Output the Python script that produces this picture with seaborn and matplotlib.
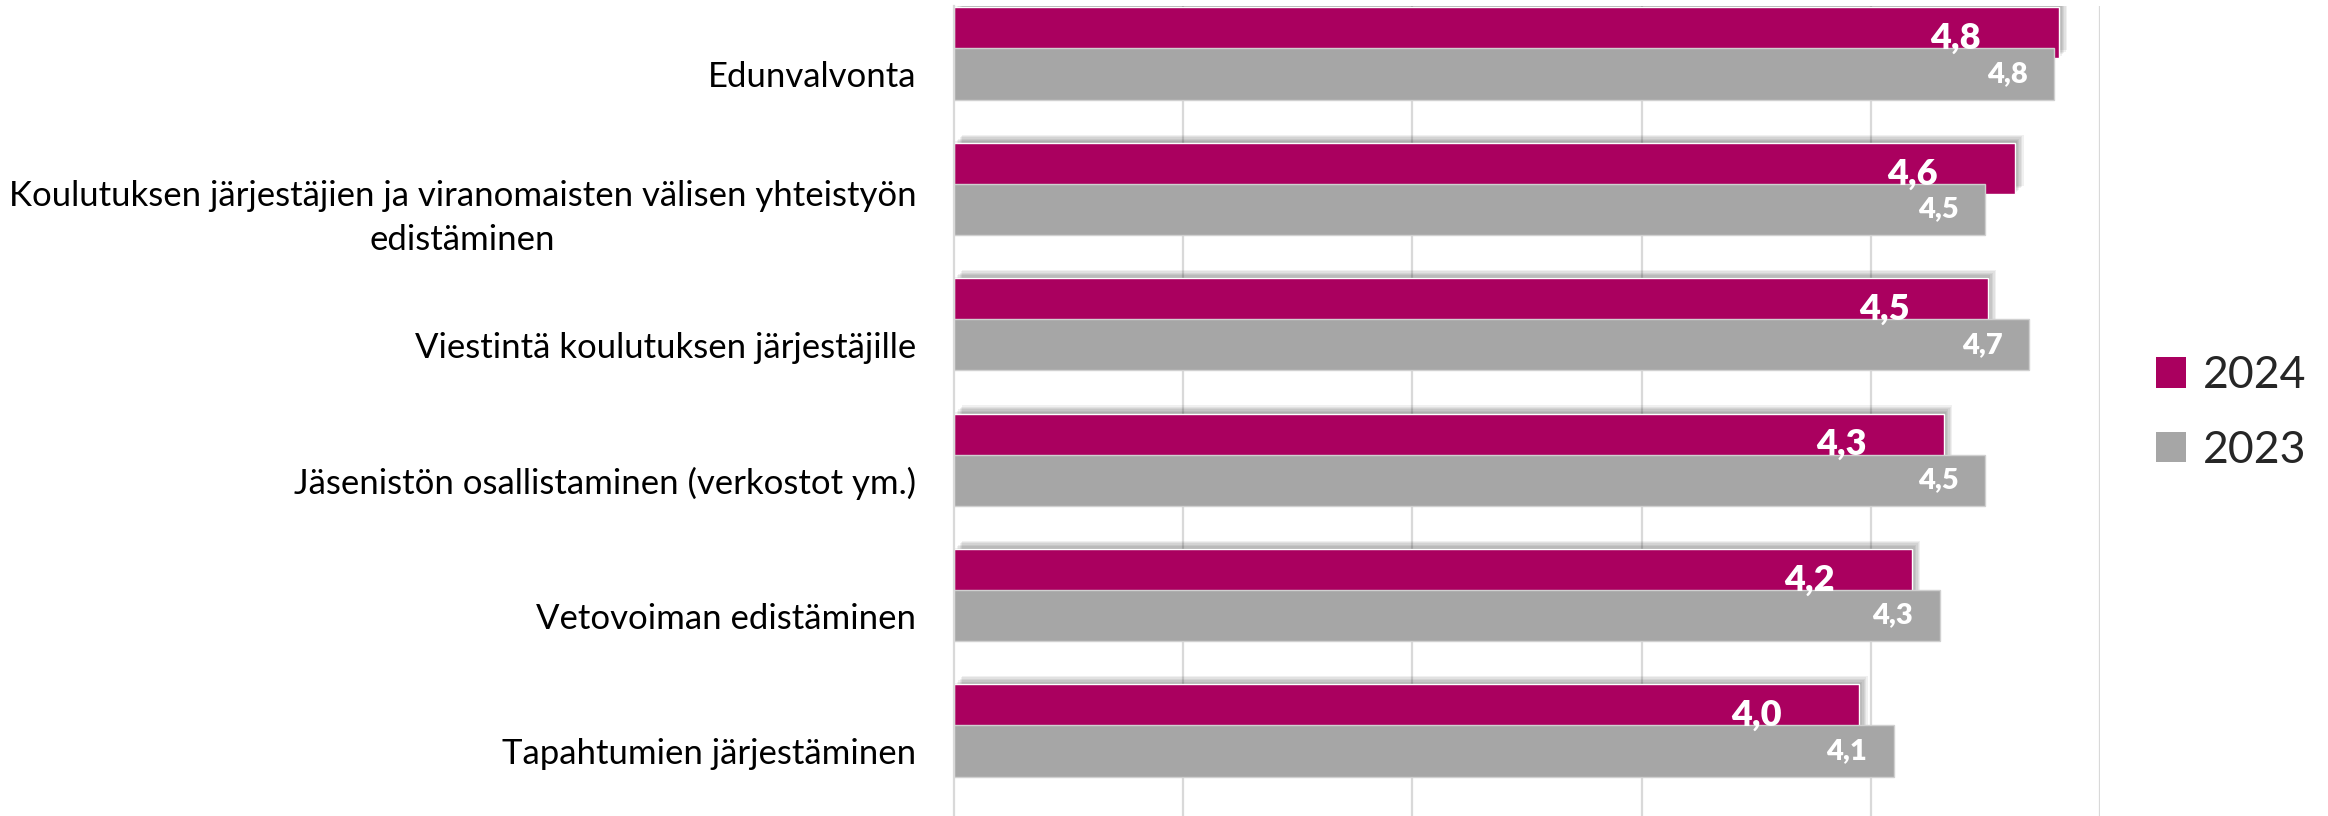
import numpy as np
import pandas as pd
import matplotlib
matplotlib.use("Agg")
import matplotlib.pyplot as plt
import matplotlib.patheffects as pe
from matplotlib.patches import Patch
import seaborn as sns

colors = ["#AA005F", "#A6A6A6"]

kategoriat = [
    "Edunvalvonta",
    "Koulutuksen järjestäjien ja viranomaisten välisen yhteistyön\nedistäminen",
    "Viestintä koulutuksen järjestäjille",
    "Jäsenistön osallistaminen (verkostot ym.)",
    "Vetovoiman edistäminen",
    "Tapahtumien järjestäminen",
]
arvot_2024 = [4.82, 4.63, 4.51, 4.32, 4.18, 3.95]
arvot_2023 = [4.80, 4.50, 4.69, 4.50, 4.30, 4.10]
vuodet = ["2024", "2023"]

sns.set_theme(style="white")
plt.rcParams["font.family"] = ["Lato", "DejaVu Sans"]

df = pd.DataFrame({"kategoria": kategoriat, "2024": arvot_2024, "2023": arvot_2023})

fig = plt.figure(figsize=(23.28, 8.16), dpi=100)
ax = fig.add_axes([954 / 2328, -0.0033, 1146 / 2328, 0.9956])

leveys = 0.377
siirto = 0.303

# 2024 ensin (jää harmaan alle), siirretään ylöspäin
sns.barplot(data=df, x="2024", y="kategoria", color=colors[0], saturation=1,
            width=leveys, ax=ax)
n = len(kategoriat)
varjo = [pe.SimplePatchShadow(offset=(o, o), shadow_rgbFace="black", alpha=0.06)
         for o in (1, 2, 3, 4, 5, 6)] + [pe.Normal()]
for p in ax.patches[:n]:
    p.set_y(p.get_y() - siirto)
    p.set_path_effects(varjo)

sns.barplot(data=df, x="2023", y="kategoria", color=colors[1], saturation=1,
            width=leveys, ax=ax)
for p in ax.patches[n:]:
    p.set_edgecolor("#D0D0D0")
    p.set_linewidth(1)

# arvot palkkien sisälle
for i, p in enumerate(ax.patches):
    uusi = i < n
    v = p.get_width()
    ax.annotate(f"{v:.1f}".replace(".", ","),
                xy=(v, p.get_y() + p.get_height() / 2),
                xytext=(-56 if uusi else -19, -4 if uusi else 0),
                textcoords="offset points", ha="right", va="center",
                color="white", fontweight="heavy",
                fontsize=26 if uusi else 21, zorder=5)

ax.set_xlim(0, 5)
ax.set_ylim(n - 0.5, -0.5)
ax.set_xticks([1, 2, 3, 4, 5])
ax.set_xticklabels([])
ax.tick_params(axis="x", length=0)
ax.tick_params(axis="y", length=0, pad=27, labelsize=25, labelcolor="black")
for t in ax.get_yticklabels():
    t.set_multialignment("center")
    t.set_linespacing(1.45)
ax.grid(axis="x", color="#D9D9D9", linewidth=1.6)
ax.grid(axis="y", visible=False)
ax.set_axisbelow(True)
ax.set_xlabel("")
ax.set_ylabel("")
for s in ["top", "right", "bottom"]:
    ax.spines[s].set_visible(False)
ax.spines["left"].set_color("#D9D9D9")
ax.spines["left"].set_linewidth(1.6)

kahvat = [Patch(facecolor=c, edgecolor="none") for c in colors]
fig.legend(kahvat, vuodet, loc="center left", bbox_to_anchor=(2138 / 2328, 1 - 413 / 816),
           frameon=False, fontsize=32, handlelength=0.68, handleheight=0.68,
           handletextpad=0.38, labelspacing=0.75, borderaxespad=0)

fig.savefig("out.png", dpi=100)
